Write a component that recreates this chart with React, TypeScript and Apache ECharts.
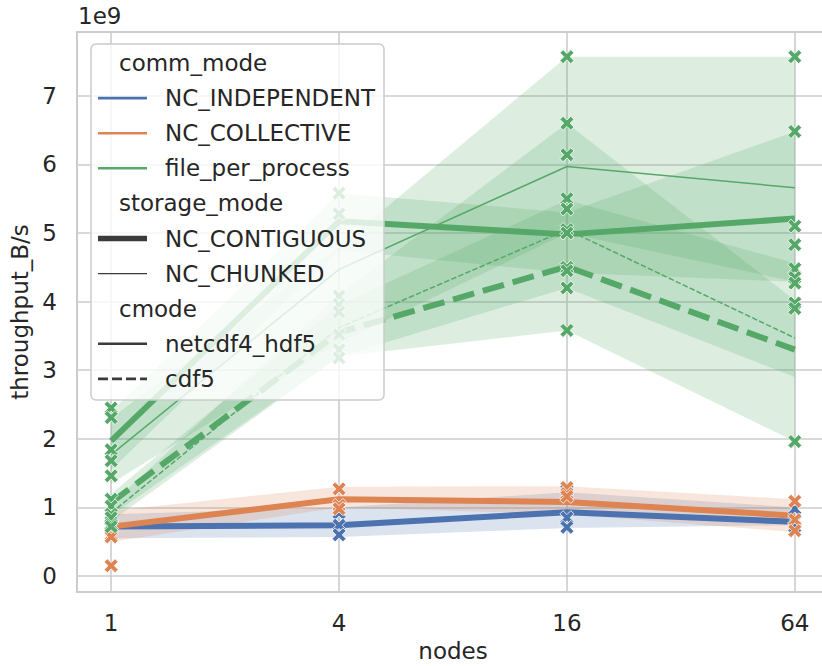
import React, { useEffect, useRef } from "react";
import * as echarts from "echarts";

// x categories (nodes) on a log4 scale
const nodes = [1, 4, 16, 64];
// y values are in units of 1e9 B/s
const yTicks = [0, 1, 2, 3, 4, 5, 6, 7];

// mean lines
const indepContigHdf5 = [0.72, 0.74, 0.93, 0.79];
const collContigHdf5 = [0.72, 1.12, 1.08, 0.88];
const fppContigHdf5 = [1.97, 5.17, 4.98, 5.21];
const fppChunkedHdf5 = [1.77, 4.47, 5.97, 5.66];
const fppContigCdf5 = [1.07, 3.55, 4.51, 3.3];
const fppChunkedCdf5 = [0.92, 3.62, 5.05, 3.47];

// confidence bands (lower / upper)
const indepLow = [0.55, 0.57, 0.7, 0.74];
const indepHigh = [0.9, 1.0, 1.22, 1.0];
const collLow = [0.5, 1.0, 0.9, 0.64];
const collHigh = [0.95, 1.3, 1.31, 1.12];
const fppContigHdf5Low = [1.55, 4.75, 4.42, 4.29];
const fppContigHdf5High = [2.4, 5.58, 5.3, 6.48];
const fppChunkedHdf5Low = [1.35, 3.4, 5.0, 4.29];
const fppChunkedHdf5High = [2.3, 4.8, 7.57, 7.57];
const fppContigCdf5Low = [0.88, 3.2, 3.58, 1.96];
const fppContigCdf5High = [1.2, 3.95, 5.48, 4.56];
const fppChunkedCdf5Low = [0.8, 3.2, 4.2, 2.9];
const fppChunkedCdf5High = [1.05, 4.1, 6.6, 4.02];

// individual measurements [nodes, value]
const indepPoints: [number, number][] = [
  [1, 0.7], [1, 0.72], [1, 0.75],
  [4, 0.92], [4, 0.74], [4, 0.6],
  [16, 1.25], [16, 0.85], [16, 0.71],
  [64, 0.98], [64, 0.8], [64, 0.72],
];
const collPoints: [number, number][] = [
  [1, 0.6], [1, 0.57], [1, 0.15],
  [4, 1.27], [4, 1.03], [4, 0.98],
  [16, 1.29], [16, 1.2], [16, 1.16],
  [64, 1.09], [64, 0.82], [64, 0.66],
];
const fppPoints: [number, number][] = [
  [1, 2.45], [1, 2.31], [1, 1.84], [1, 1.68], [1, 1.46], [1, 1.12],
  [1, 1.02], [1, 0.9], [1, 0.85], [1, 0.75], [1, 0.72],
  [4, 5.58], [4, 5.28], [4, 4.08], [4, 3.96], [4, 3.85], [4, 3.52], [4, 3.3], [4, 3.18],
  [16, 7.57], [16, 6.6], [16, 6.14], [16, 5.5], [16, 5.35], [16, 5.05], [16, 5.0],
  [16, 4.5], [16, 4.45], [16, 4.2], [16, 3.58],
  [64, 7.57], [64, 6.48], [64, 5.1], [64, 4.83], [64, 4.48], [64, 4.35], [64, 4.27],
  [64, 3.98], [64, 3.9], [64, 1.96],
];

const BLUE = "#4c72b0";
const ORANGE = "#dd8452";
const GREEN = "#55a868";
const TEXT = "#262626";
const GRID = "#cccccc";
const FONT = "DejaVu Sans";
const FS = 23;

const X_PATH =
  "path://M-1,-0.55 L-0.55,-1 L0,-0.45 L0.55,-1 L1,-0.55 L0.45,0 L1,0.55 L0.55,1 L0,0.45 L-0.55,1 L-1,0.55 L-0.45,0 Z";

function rgba(hex: string, a: number) {
  const r = parseInt(hex.slice(1, 3), 16);
  const g = parseInt(hex.slice(3, 5), 16);
  const b = parseInt(hex.slice(5, 7), 16);
  return `rgba(${r},${g},${b},${a})`;
}

function band(low: number[], high: number[], color: string) {
  return {
    type: "custom",
    silent: true,
    z: 1,
    data: nodes.map((n, i) => [n, low[i], high[i]]),
    encode: { x: 0, y: [1, 2] },
    renderItem: (params: any, api: any) => {
      if (params.dataIndex !== 0) return null;
      const top = nodes.map((n, i) => api.coord([n, high[i]]));
      const bot = nodes.map((n, i) => api.coord([n, low[i]])).reverse();
      return {
        type: "polygon",
        shape: { points: top.concat(bot) },
        style: { fill: rgba(color, 0.2) },
      };
    },
  };
}

function meanLine(vals: number[], color: string, width: number, dash: number[] | null) {
  return {
    type: "line",
    z: 3,
    silent: true,
    symbol: "none",
    data: nodes.map((n, i) => [n, vals[i]]),
    lineStyle: { color, width, type: dash ? dash : "solid", cap: "butt" },
  };
}

function points(pts: [number, number][], color: string) {
  return {
    type: "scatter",
    z: 5,
    silent: true,
    symbol: X_PATH,
    symbolSize: 14,
    data: pts,
    itemStyle: { color, borderColor: "#ffffff", borderWidth: 0.8, opacity: 1 },
  };
}

function legendGraphics() {
  const left = 91;
  const top = 44;
  const els: any[] = [
    {
      type: "rect",
      shape: { x: left, y: top, width: 293, height: 356, r: 5 },
      style: { fill: "rgba(255,255,255,0.8)", stroke: GRID, lineWidth: 1.5 },
      z: 100,
    },
  ];
  const rows: { kind: string; label: string; color?: string; width?: number; dash?: number[] }[] = [
    { kind: "h", label: "comm_mode" },
    { kind: "l", label: "NC_INDEPENDENT", color: BLUE, width: 2.6 },
    { kind: "l", label: "NC_COLLECTIVE", color: ORANGE, width: 2.6 },
    { kind: "l", label: "file_per_process", color: GREEN, width: 2.6 },
    { kind: "h", label: "storage_mode" },
    { kind: "l", label: "NC_CONTIGUOUS", color: "#3b3b3b", width: 5.5 },
    { kind: "l", label: "NC_CHUNKED", color: "#3b3b3b", width: 1.2 },
    { kind: "h", label: "cmode" },
    { kind: "l", label: "netcdf4_hdf5", color: "#3b3b3b", width: 2.6 },
    { kind: "l", label: "cdf5", color: "#3b3b3b", width: 2.6, dash: [10, 4] },
  ];
  rows.forEach((r, i) => {
    const y = 63 + i * 35.1;
    if (r.kind === "h") {
      els.push({
        type: "text",
        z: 101,
        style: { text: r.label, x: 119, y, fill: TEXT, font: `${FS}px '${FONT}'`, verticalAlign: "middle", align: "left" },
      });
    } else {
      els.push({
        type: "line",
        z: 101,
        shape: { x1: 98, y1: y, x2: 147, y2: y },
        style: { stroke: r.color, lineWidth: r.width, lineDash: r.dash || null, lineCap: "butt" },
      });
      els.push({
        type: "text",
        z: 101,
        style: { text: r.label, x: 165, y, fill: TEXT, font: `${FS}px '${FONT}'`, verticalAlign: "middle", align: "left" },
      });
    }
  });
  els.push({
    type: "text",
    z: 101,
    style: { text: "1e9", x: 78, y: 16, fill: TEXT, font: `${FS}px '${FONT}'`, verticalAlign: "middle", align: "left" },
  });
  return els;
}

export default function App() {
  const ref = useRef<HTMLDivElement>(null);
  useEffect(() => {
    if (!ref.current) return;
    const chart = echarts.init(ref.current, null, { renderer: "svg" });
    const option: any = {
      animation: false,
      backgroundColor: "#ffffff",
      textStyle: { fontFamily: FONT, color: TEXT },
      grid: {
        left: 77,
        top: 32,
        width: 752,
        height: 560,
        show: true,
        borderColor: GRID,
        borderWidth: 2,
        backgroundColor: "transparent",
        containLabel: false,
        outerBoundsMode: "none",
      },
      xAxis: {
        type: "log",
        logBase: 4,
        min: Math.pow(4, -0.15),
        max: Math.pow(4, 3.15),
        name: "nodes",
        nameLocation: "middle",
        nameGap: 47,
        nameTextStyle: { fontSize: FS, color: TEXT, fontFamily: FONT },
        axisLine: { show: false },
        axisTick: { show: false },
        axisLabel: {
          fontSize: FS,
          color: TEXT,
          fontFamily: FONT,
          margin: 19,
          showMinLabel: false,
          showMaxLabel: false,
          formatter: (v: number) => {
            const r = Math.round(v);
            return nodes.includes(r) && Math.abs(v - r) < 0.01 ? String(r) : "";
          },
        },
        splitLine: { show: true, lineStyle: { color: GRID, width: 1.6 } },
      },
      yAxis: {
        type: "value",
        min: -0.233,
        max: 7.93,
        splitNumber: 8,
        name: "throughput_B/s",
        nameLocation: "middle",
        nameGap: 45,
        nameRotate: 90,
        nameTextStyle: { fontSize: FS, color: TEXT, fontFamily: FONT },
        axisLine: { show: false },
        axisTick: { show: false },
        axisLabel: {
          fontSize: FS,
          color: TEXT,
          fontFamily: FONT,
          margin: 20,
          showMinLabel: false,
          showMaxLabel: false,
          formatter: (v: number) => (yTicks.includes(Math.round(v)) && Math.abs(v - Math.round(v)) < 1e-6 ? String(Math.round(v)) : ""),
        },
        splitLine: { show: true, lineStyle: { color: GRID, width: 1.6 } },
      },
      graphic: legendGraphics(),
      series: [
        band(indepLow, indepHigh, BLUE),
        band(collLow, collHigh, ORANGE),
        band(fppContigHdf5Low, fppContigHdf5High, GREEN),
        band(fppChunkedHdf5Low, fppChunkedHdf5High, GREEN),
        band(fppContigCdf5Low, fppContigCdf5High, GREEN),
        band(fppChunkedCdf5Low, fppChunkedCdf5High, GREEN),
        meanLine(indepContigHdf5, BLUE, 6, null),
        meanLine(collContigHdf5, ORANGE, 6, null),
        meanLine(fppContigHdf5, GREEN, 6, null),
        meanLine(fppChunkedHdf5, GREEN, 1.5, null),
        meanLine(fppContigCdf5, GREEN, 6, [22, 9]),
        meanLine(fppChunkedCdf5, GREEN, 1.5, [5.5, 2.2]),
        points(indepPoints, BLUE),
        points(collPoints, ORANGE),
        points(fppPoints, GREEN),
      ],
    };
    chart.setOption(option);
    return () => chart.dispose();
  }, []);
  return (
    <div
      ref={ref}
      style={{ position: "absolute", left: 0, top: 0, width: 822, height: 666 }}
    />
  );
}
